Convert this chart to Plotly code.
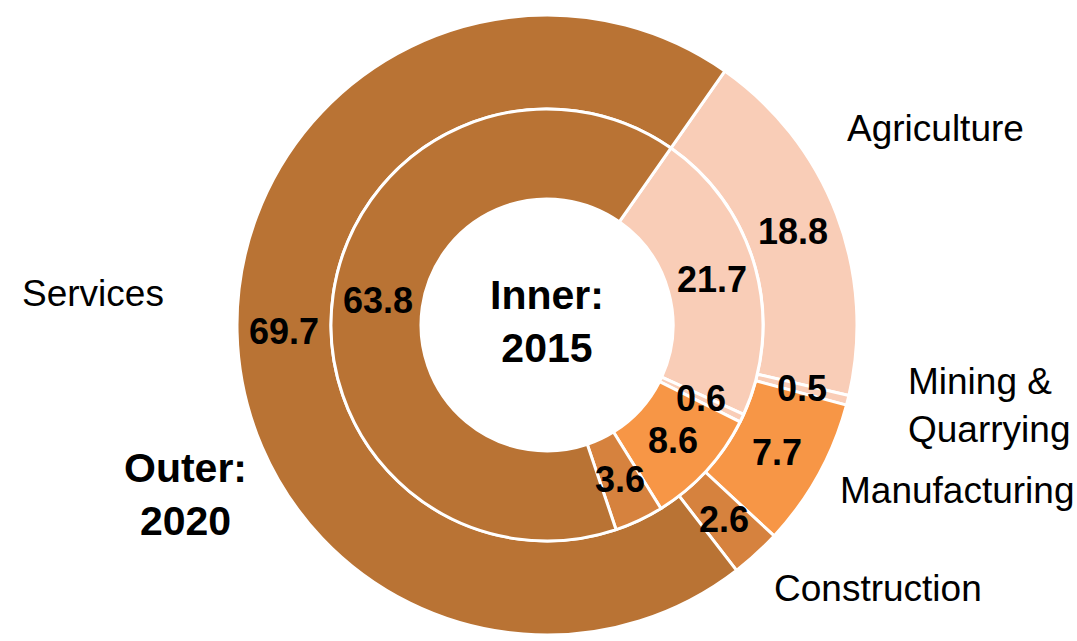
import math
import plotly.graph_objects as go

categories = ["Agriculture", "Mining & Quarrying", "Manufacturing", "Construction", "Services"]
values_2015 = [21.7, 0.6, 8.6, 3.6, 63.8]
values_2020 = [18.8, 0.5, 7.7, 2.6, 69.7]
colors = ["#F9CDB7", "#F9CDB7", "#F79646", "#D6823E", "#B97334"]

W, H = 1077, 641
cx, cy = 547, 325
R_out, R_mid, R_hole = 310, 216, 126
ROT = 35

def dom(r):
    return dict(x=[(cx - r) / W, (cx + r) / W], y=[1 - (cy + r) / H, 1 - (cy - r) / H])

FONT = "Liberation Sans, Arial, sans-serif"

common = dict(
    labels=categories,
    sort=False,
    direction="clockwise",
    rotation=ROT,
    marker=dict(colors=colors, line=dict(color="white", width=3)),
    textinfo="none",
    showlegend=False,
    hoverinfo="label+value",
)

fig = go.Figure()
fig.add_trace(go.Pie(values=values_2020, hole=R_mid / R_out, domain=dom(R_out), name="2020", **common))
fig.add_trace(go.Pie(values=values_2015, hole=R_hole / R_mid, domain=dom(R_mid), name="2015", **common))

ann = []
def add(text, xpx, ypx, size=37, align="center", xanchor="center"):
    ann.append(dict(text=text, x=xpx / W, y=1 - ypx / H, xref="paper", yref="paper",
                    showarrow=False, align=align, xanchor=xanchor, yanchor="middle",
                    font=dict(family=FONT, size=size, color="black")))

# value labels at each slice's mid-angle, mid-ring radius (derived from data)
def value_labels(vals, r0, r1):
    tot = sum(vals)
    start = ROT
    rr = (r0 + r1) / 2
    for v in vals:
        span = v / tot * 360
        mid = math.radians(start + span / 2)
        add("<b>%s</b>" % v, cx + rr * math.sin(mid), cy - rr * math.cos(mid), size=36)
        start += span

value_labels(values_2020, R_mid, R_out)
value_labels(values_2015, R_hole, R_mid)

add("Agriculture", 935, 128)
add("Services", 93, 293)
add("Mining &<br>Quarrying", 906, 405, align="left", xanchor="left")
add("Manufacturing", 838, 490, xanchor="left")
add("Construction", 878, 588)
add("<b>Inner:<br>2015</b>", cx, 322, size=41)
add("<b>Outer:<br>2020</b>", 185, 495, size=41)

fig.update_layout(
    width=W, height=H,
    margin=dict(l=0, r=0, t=0, b=0),
    paper_bgcolor="white", plot_bgcolor="white",
    annotations=ann,
)

fig.write_html("out.html", config={"displayModeBar": False},
               post_script="document.body.style.margin='0px';")
